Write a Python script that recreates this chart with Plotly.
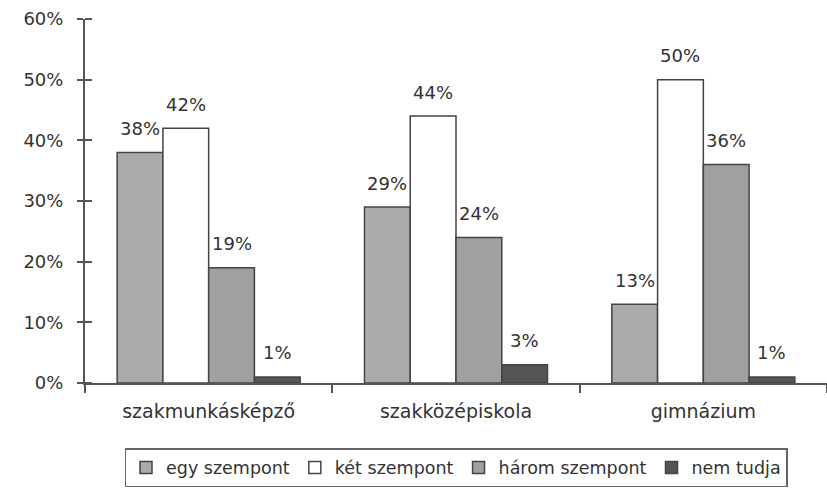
import plotly.graph_objects as go

categories = ["szakmunkásképző", "szakközépiskola", "gimnázium"]
series_names = ["egy szempont", "két szempont", "három szempont", "nem tudja"]
egy = [38, 29, 13]
ket = [42, 44, 50]
harom = [19, 24, 36]
nem = [1, 3, 1]
series_values = [egy, ket, harom, nem]
y_ticks = [0, 10, 20, 30, 40, 50, 60]
y_tick_labels = [f"{v}%" for v in y_ticks]

colors = ["#ababab", "#ffffff", "#a0a0a0", "#555555"]
FONT = "DejaVu Sans, Liberation Sans, Arial, sans-serif"
TXT = "#333333"
AX = "#555555"

W, H = 827, 488
ML, MR, MT, MB = 85, 0, 19, 105
BARGAP = 0.26

fig = go.Figure()
for name, vals, col in zip(series_names, series_values, colors):
    fig.add_trace(go.Bar(
        x=categories, y=vals, name=name,
        marker=dict(color=col, line=dict(color="#444444", width=1.5)),
        hoverinfo="x+y+name",
    ))

# value labels above bars
plot_w = W - ML - MR
cat_w = plot_w / len(categories)
bar_w = cat_w * (1 - BARGAP) / len(series_names)
n = len(series_names)
for i, vals in enumerate(series_values):
    for c, v in zip(categories, vals):
        fig.add_annotation(
            x=c, y=v, text=f"{v}%", showarrow=False,
            xshift=(i - (n - 1) / 2) * bar_w, yshift=24, yanchor="middle",
            font=dict(family=FONT, size=18, color=TXT),
        )

fig.update_layout(
    width=W, height=H,
    margin=dict(l=ML, r=MR, t=MT, b=MB, autoexpand=False),
    paper_bgcolor="white", plot_bgcolor="white",
    barmode="group", bargap=BARGAP, bargroupgap=0,
    font=dict(family=FONT, size=18, color=TXT),
    showlegend=True,
    legend=dict(
        orientation="h", x=0.5, xanchor="center",
        yref="container", y=(H - 448) / H, yanchor="top",
        bordercolor="#666666", borderwidth=1.5,
        font=dict(family=FONT, size=17.5, color=TXT),
        itemwidth=30, tracegroupgap=0,
    ),
    xaxis=dict(
        type="category", automargin=False,
        showline=True, linecolor=AX, linewidth=2,
        ticks="outside", tickson="boundaries", ticklen=8, tickwidth=1.5,
        tickcolor=AX, showgrid=False, zeroline=False,
        tickfont=dict(family=FONT, size=19, color=TXT),
        ticklabelstandoff=10,
    ),
    yaxis=dict(
        range=[0, 60], tickvals=y_ticks, ticktext=y_tick_labels,
        automargin=False,
        showline=True, linecolor=AX, linewidth=2,
        ticks="outside", ticklen=6, tickwidth=1.5, tickcolor=AX,
        showgrid=False, zeroline=False,
        tickfont=dict(family=FONT, size=18, color=TXT),
        ticklabelstandoff=10,
        minor=dict(tickvals=y_ticks, ticks="inside", ticklen=7,
                   tickwidth=1.5, tickcolor=AX, showgrid=False),
    ),
)

fig.write_html(
    "out.html",
    config={"displayModeBar": False},
    post_script="document.body.style.margin='0';document.body.style.overflow='hidden';",
)
